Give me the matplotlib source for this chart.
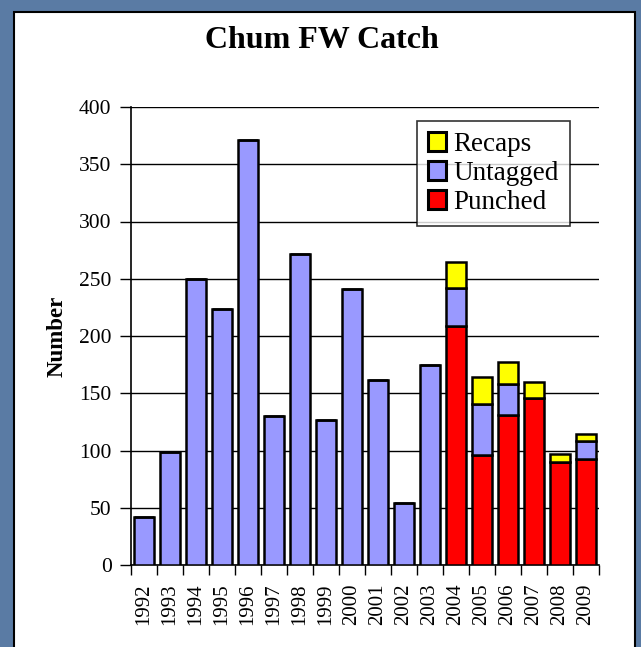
import matplotlib
matplotlib.use("Agg")
import matplotlib.pyplot as plt
from matplotlib.patches import Rectangle
import numpy as np

years = ["1992", "1993", "1994", "1995", "1996", "1997", "1998", "1999", "2000",
         "2001", "2002", "2003", "2004", "2005", "2006", "2007", "2008", "2009"]
punched = [0, 0, 0, 0, 0, 0, 0, 0, 0, 0, 0, 0, 209, 96, 131, 146, 90, 93]
untagged = [42, 99, 250, 224, 371, 130, 272, 127, 241, 162, 54, 175, 33, 45, 27, 0, 0, 15]
recaps = [0, 0, 0, 0, 0, 0, 0, 0, 0, 0, 0, 0, 23, 23, 19, 14, 7, 6]
yticks = [0, 50, 100, 150, 200, 250, 300, 350, 400]

plt.rcParams['font.family'] = ['Liberation Serif', 'DejaVu Serif']

fig = plt.figure(figsize=(6.41, 6.47), dpi=100)
fig.patch.set_facecolor('#5a7ba4')

panel = Rectangle((14 / 641, -0.02), (635 - 14) / 641, 1 - 12 / 647 + 0.02,
                  transform=fig.transFigure, facecolor='white', edgecolor='black',
                  linewidth=1.5, zorder=-10)
fig.add_artist(panel)

ax = fig.add_axes([131 / 641, 1 - 565 / 647, (599 - 131) / 641, (565 - 107) / 647])
ax.set_facecolor('none')
ax.set_zorder(1)

x = np.arange(len(years))
p = np.array(punched)
u = np.array(untagged)
r = np.array(recaps)
w = 0.8
kw = dict(width=w, edgecolor='black', linewidth=1.8, zorder=3)
ax.bar(x, p, color='#ff0000', label='Punched', **kw)
ax.bar(x, u, bottom=p, color='#9999ff', label='Untagged', **kw)
ax.bar(x, r, bottom=p + u, color='#ffff00', label='Recaps', **kw)

ax.set_xlim(-0.5, len(years) - 0.5)
ax.set_ylim(0, 400)
ax.set_yticks(yticks)
ax.set_yticklabels([str(v) for v in yticks], fontsize=15.5)
ax.yaxis.grid(True, color='black', linewidth=1.0, zorder=0)
ax.set_axisbelow(True)
ax.tick_params(axis='y', length=8, width=1, color='black', pad=6)

ax.set_xticks(x)
ax.set_xticklabels(years, rotation=90, fontsize=15)
ax.set_xticks(np.arange(-0.5, len(years)), minor=True)
ax.tick_params(axis='x', which='major', length=0, pad=13)
ax.tick_params(axis='x', which='minor', length=7, width=1, color='black')

for s in ['top', 'right']:
    ax.spines[s].set_visible(False)
for s in ['left', 'bottom']:
    ax.spines[s].set_linewidth(1.2)
    ax.spines[s].set_color('black')

ax.set_ylabel('Number', fontsize=16.5, fontweight='bold', labelpad=8)

fig.text(322 / 641, 1 - 41 / 647, 'Chum FW Catch', ha='center', va='center',
         fontsize=23, fontweight='bold')

handles, labels = ax.get_legend_handles_labels()
leg = ax.legend(handles[::-1], labels[::-1], loc='upper left',
                bbox_to_anchor=(0.611, 0.969), fontsize=19.5, frameon=True,
                fancybox=False, shadow=False, borderpad=0.4, labelspacing=0.15,
                handlelength=0.67, handleheight=0.67, handletextpad=0.28,
                borderaxespad=0)
leg.get_frame().set_edgecolor('black')
leg.get_frame().set_linewidth(1.2)
leg.set_zorder(5)
for h in leg.legend_handles:
    h.set_linewidth(2.2)

fig.savefig('out.png', dpi=100, facecolor=fig.get_facecolor())
